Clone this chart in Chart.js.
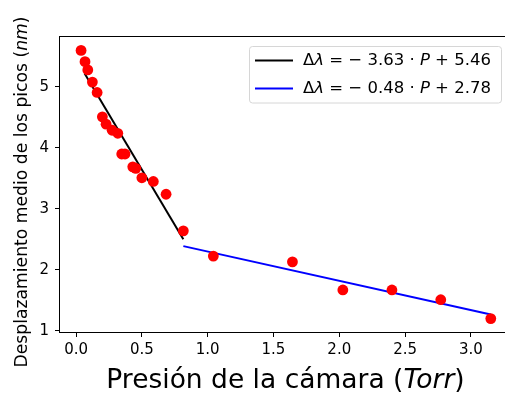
<!DOCTYPE html>
<html>
<head>
<meta charset="utf-8">
<script src="https://cdn.jsdelivr.net/npm/chart.js@4.4.1/dist/chart.umd.min.js"></script>
<style>
  html, body { margin: 0; padding: 0; background: #fff; overflow: hidden; }
  #wrap { width: 505px; height: 394px; }
</style>
</head>
<body>
<div id="wrap"><canvas id="chart" width="505" height="394"></canvas></div>
<script>
// datos medidos (presión en Torr, desplazamiento en nm)
const pressure = [0.038, 0.068, 0.089, 0.124, 0.16, 0.20, 0.228, 0.274, 0.317, 0.347, 0.372,
  0.431, 0.454, 0.50, 0.587, 0.684, 0.815, 1.043, 1.644, 2.027, 2.40, 2.771, 3.151];
const shift = [5.60, 5.415, 5.28, 5.08, 4.91, 4.51, 4.39, 4.29, 4.24, 3.90, 3.90,
  3.69, 3.665, 3.51, 3.45, 3.24, 2.64, 2.225, 2.13, 1.67, 1.67, 1.51, 1.20];

// extremos de los dos ajustes lineales
const fit1X = [0.065, 0.815];
const fit1Y = [5.22, 2.50];
const fit2X = [0.815, 3.151];
const fit2Y = [2.389, 1.268];

// etiquetas (entre asteriscos = cursiva)
const fitLabels = ['Δ*λ* = − 3.63 · *P* + 5.46', 'Δ*λ* = − 0.48 · *P* + 2.78'];
const xTicks = [0, 0.5, 1.0, 1.5, 2.0, 2.5, 3.0];
const yTicks = [1, 2, 3, 4, 5];
const xTitle = 'Presión de la cámara (*Torr*)';
const yTitle = 'Desplazamiento medio de los picos (*nm*)';

const FONT = '"DejaVu Sans", "Liberation Sans", sans-serif';

function toPoints(xs, ys) {
  return xs.map((x, i) => ({ x: x, y: ys[i] }));
}

// texto con partes en cursiva
function richParts(str) {
  return str.split('*').map((t, i) => ({ t: t, it: i % 2 === 1 }));
}
function richWidth(c, parts, size) {
  let w = 0;
  parts.forEach(p => {
    c.font = (p.it ? 'italic ' : '') + size + 'px ' + FONT;
    w += c.measureText(p.t).width;
  });
  return w;
}
function drawRich(c, str, x, y, size, align, baseline) {
  const parts = richParts(str);
  let cx = x;
  if (align === 'center') cx = x - richWidth(c, parts, size) / 2;
  c.textAlign = 'left';
  c.textBaseline = baseline || 'middle';
  parts.forEach(p => {
    c.font = (p.it ? 'italic ' : '') + size + 'px ' + FONT;
    c.fillText(p.t, cx, y);
    cx += c.measureText(p.t).width;
  });
}

// marco, títulos de ejes y leyenda estilo matplotlib
const decor = {
  id: 'decor',
  afterDraw(chart) {
    const c = chart.ctx;
    const a = chart.chartArea;
    c.save();
    c.strokeStyle = '#000';
    c.lineWidth = 1;
    c.strokeRect(Math.round(a.left) - 0.5, Math.round(a.top) - 0.5,
      Math.round(a.right - a.left) + 1, Math.round(a.bottom - a.top) + 1);

    c.fillStyle = '#000';
    drawRich(c, xTitle, 285.5, 388, 26.5, 'center', 'alphabetic');

    c.save();
    c.translate(26.5, 192);
    c.rotate(-Math.PI / 2);
    drawRich(c, yTitle, 0, 0, 17.2, 'center', 'alphabetic');
    c.restore();

    // leyenda
    const bx = 249.5, by = 46.5, bw = 252, bh = 56.5;
    c.beginPath();
    c.roundRect(bx, by, bw, bh, 3);
    c.fillStyle = 'rgba(255,255,255,0.8)';
    c.fill();
    c.strokeStyle = '#d6d6d6';
    c.stroke();
    const lines = chart.data.datasets.filter(d => d.type === 'line');
    lines.forEach((d, i) => {
      const ly = 60.5 + i * 28;
      c.beginPath();
      c.moveTo(255, ly);
      c.lineTo(293, ly);
      c.strokeStyle = d.borderColor;
      c.lineWidth = 2;
      c.stroke();
      c.fillStyle = '#000';
      drawRich(c, d.label, 303, ly, 16.5, 'left');
    });
    c.restore();
  }
};

new Chart(document.getElementById('chart'), {
  type: 'scatter',
  data: {
    datasets: [
      {
        label: 'datos',
        data: toPoints(pressure, shift),
        backgroundColor: '#ff0000',
        borderColor: '#ff0000',
        pointRadius: 5.4,
        pointHoverRadius: 5.4,
        borderWidth: 0
      },
      {
        type: 'line',
        label: fitLabels[0],
        data: toPoints(fit1X, fit1Y),
        borderColor: '#000000',
        borderWidth: 2,
        pointRadius: 0,
        fill: false
      },
      {
        type: 'line',
        label: fitLabels[1],
        data: toPoints(fit2X, fit2Y),
        borderColor: '#0000ff',
        borderWidth: 2,
        pointRadius: 0,
        fill: false
      }
    ]
  },
  options: {
    responsive: false,
    animation: false,
    layout: { autoPadding: false, padding: { top: 37, left: 0, right: 0, bottom: 0 } },
    plugins: {
      legend: { display: false },
      tooltip: { enabled: false }
    },
    scales: {
      x: {
        type: 'linear',
        min: -0.122,
        max: 3.259,
        afterBuildTicks: s => { s.ticks = xTicks.map(v => ({ value: v })); },
        afterFit: s => { s.height = 62; s.paddingLeft = 0; s.paddingRight = 0; },
        ticks: {
          autoSkip: false,
          maxRotation: 0,
          padding: 4,
          color: '#000',
          font: { family: FONT, size: 15 },
          callback: v => v.toFixed(1)
        },
        grid: { drawOnChartArea: false, drawTicks: true, tickLength: 5, color: '#000' },
        border: { display: false }
      },
      y: {
        min: 0.98,
        max: 5.82,
        afterBuildTicks: s => { s.ticks = yTicks.map(v => ({ value: v })); },
        afterFit: s => { s.width = 60; s.paddingTop = 0; s.paddingBottom = 0; },
        ticks: {
          padding: 6,
          color: '#000',
          font: { family: FONT, size: 15 },
          callback: v => String(v)
        },
        grid: { drawOnChartArea: false, drawTicks: true, tickLength: 5, color: '#000' },
        border: { display: false }
      }
    }
  },
  plugins: [decor]
});
</script>
</body>
</html>
